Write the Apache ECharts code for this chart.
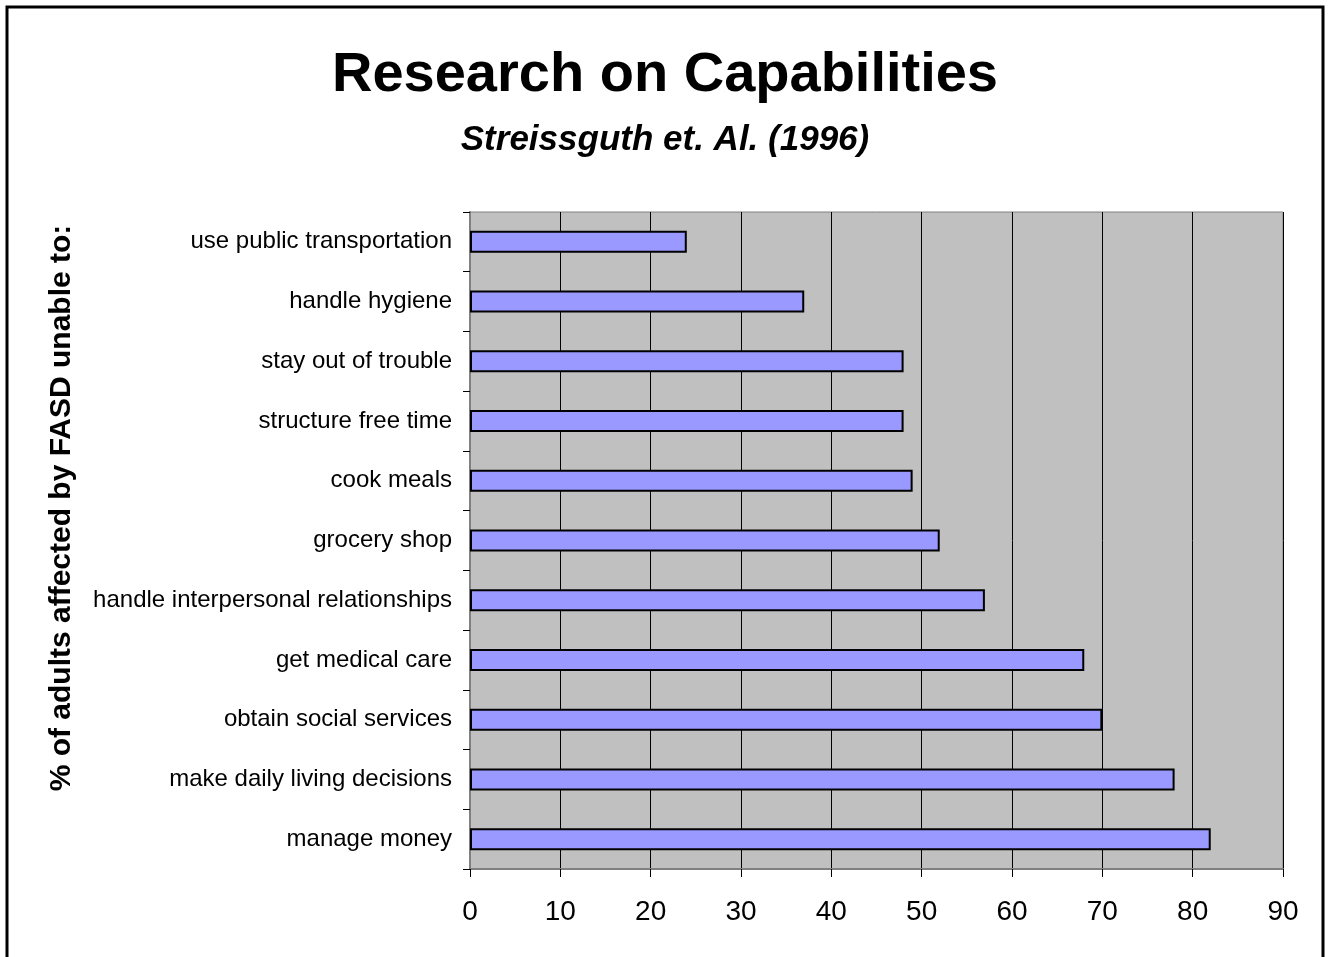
<!DOCTYPE html>
<html>
<head>
<meta charset="utf-8">
<script src="https://cdn.jsdelivr.net/npm/echarts@6/dist/echarts.min.js"></script>
<style>
  html, body { margin: 0; padding: 0; background: #fff; }
  #container { width: 1330px; height: 957px; }
</style>
</head>
<body>
<div id="container"></div>
<script>
// categories top to bottom
const categories = [
  'use public transportation',
  'handle hygiene',
  'stay out of trouble',
  'structure free time',
  'cook meals',
  'grocery shop',
  'handle interpersonal relationships',
  'get medical care',
  'obtain social services',
  'make daily living decisions',
  'manage money'
]
const values = [24, 37, 48, 48, 49, 52, 57, 68, 70, 78, 82]
const xTicks = [0, 90, 10] // min, max, interval

const font = '"Liberation Sans", Arial, sans-serif'
let myChart = echarts.init(document.getElementById('container'), null, { renderer: 'canvas' })

let option = {
  backgroundColor: '#fff',
  animation: false,
  title: [
    {
      text: 'Research on Capabilities',
      left: 'center',
      top: 43,
      textStyle: { fontFamily: font, fontSize: 56, fontWeight: 'bold', color: '#000' }
    },
    {
      text: 'Streissguth et. Al. (1996)',
      left: 'center',
      top: 118,
      textStyle: { fontFamily: font, fontSize: 35, fontWeight: 'bold', fontStyle: 'italic', color: '#000' }
    }
  ],
  graphic: [
    {
      type: 'rect',
      shape: { x: 7, y: 7, width: 1316, height: 1000 },
      style: { fill: 'none', stroke: '#000', lineWidth: 3 }
    },
    {
      type: 'text',
      x: 62,
      y: 508,
      rotation: Math.PI / 2,
      style: {
        text: '% of adults affected by FASD unable to:',
        fontFamily: font,
        fontSize: 30,
        fontWeight: 'bold',
        fill: '#000',
        align: 'center',
        verticalAlign: 'middle'
      }
    }
  ],
  grid: {
    left: 470,
    top: 212,
    right: 47,
    bottom: 88,
    show: true,
    backgroundColor: '#c0c0c0',
    borderColor: '#808080',
    borderWidth: 1
  },
  xAxis: {
    type: 'value',
    min: xTicks[0],
    max: xTicks[1],
    interval: xTicks[2],
    axisLine: { show: true, lineStyle: { color: '#808080', width: 2 } },
    axisTick: { show: true, length: 8, lineStyle: { color: '#000' } },
    axisLabel: { fontFamily: font, fontSize: 28, color: '#000', margin: 29 },
    splitLine: { show: true, lineStyle: { color: '#000', width: 1 } }
  },
  yAxis: {
    type: 'category',
    inverse: true,
    data: categories,
    axisLine: { show: true, lineStyle: { color: '#808080', width: 2 } },
    axisTick: { show: true, length: 7, lineStyle: { color: '#000' } },
    axisLabel: { fontFamily: font, fontSize: 24, color: '#000', margin: 18 },
    splitLine: { show: false }
  },
  series: [
    {
      type: 'bar',
      data: values,
      barWidth: 22,
      itemStyle: { color: '#9999ff', borderColor: '#000', borderWidth: 2 }
    }
  ]
}

option && myChart.setOption(option)
</script>
</body>
</html>
